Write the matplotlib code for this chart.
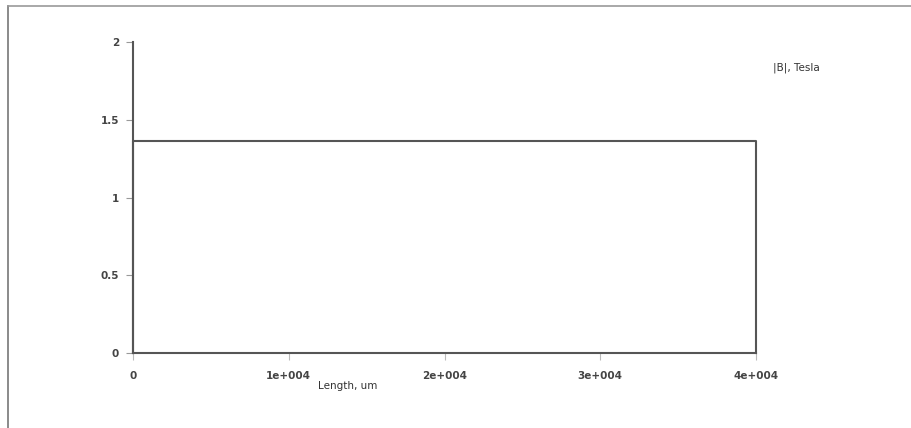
import numpy as np
import matplotlib
matplotlib.use('Agg')
import matplotlib.pyplot as plt
from matplotlib.lines import Line2D

# field magnitude along the length
length_um = [0, 0, 40000, 40000]
b_tesla = [0, 1.365, 1.365, 0]

x_ticks = [0, 10000, 20000, 30000, 40000]
x_labels = ['0', '1e+004', '2e+004', '3e+004', '4e+004']
y_ticks = [0, 0.5, 1, 1.5, 2]
y_labels = ['0', '0.5', '1', '1.5', '2']

fig = plt.figure(figsize=(9.12, 4.28), dpi=100)
ax = fig.add_axes([0.1458, 0.1752, 0.829 - 0.1458, 0.9019 - 0.1752])

ax.plot(length_um, b_tesla, color='#555555', lw=1.5, clip_on=False)

ax.set_xlim(0, 40000)
ax.set_ylim(0, 2)
ax.set_xticks(x_ticks)
ax.set_xticklabels(x_labels, fontweight='bold')
ax.set_yticks(y_ticks)
ax.set_yticklabels(y_labels, fontweight='bold')

for s in ['top', 'right']:
    ax.spines[s].set_visible(False)
for s in ['left', 'bottom']:
    ax.spines[s].set_color('#555555')
    ax.spines[s].set_linewidth(1.5)

ax.tick_params(axis='y', length=5, width=0.8, color='#999999', labelsize=7.5,
               labelcolor='#444444', pad=5)
ax.tick_params(axis='x', length=5, width=0.8, color='#bbbbbb', labelsize=7.5,
               labelcolor='#444444', pad=8)

fig.text(318 / 912, 1 - 386 / 428, 'Length, um', fontsize=7.5, color='#333333',
         ha='left', va='center')
fig.text(773 / 912, 1 - 68 / 428, '|B|, Tesla', fontsize=7.5, color='#333333',
         ha='left', va='center')

# frame around the picture (left and top edges)
fig.add_artist(Line2D([8.5 / 912, 8.5 / 912], [0, 1 - 5.5 / 428],
                      transform=fig.transFigure, color='#777777', lw=1.2))
fig.add_artist(Line2D([8.5 / 912, 1], [1 - 5.5 / 428, 1 - 5.5 / 428],
                      transform=fig.transFigure, color='#999999', lw=1.2))

fig.savefig('out.png', dpi=100)
